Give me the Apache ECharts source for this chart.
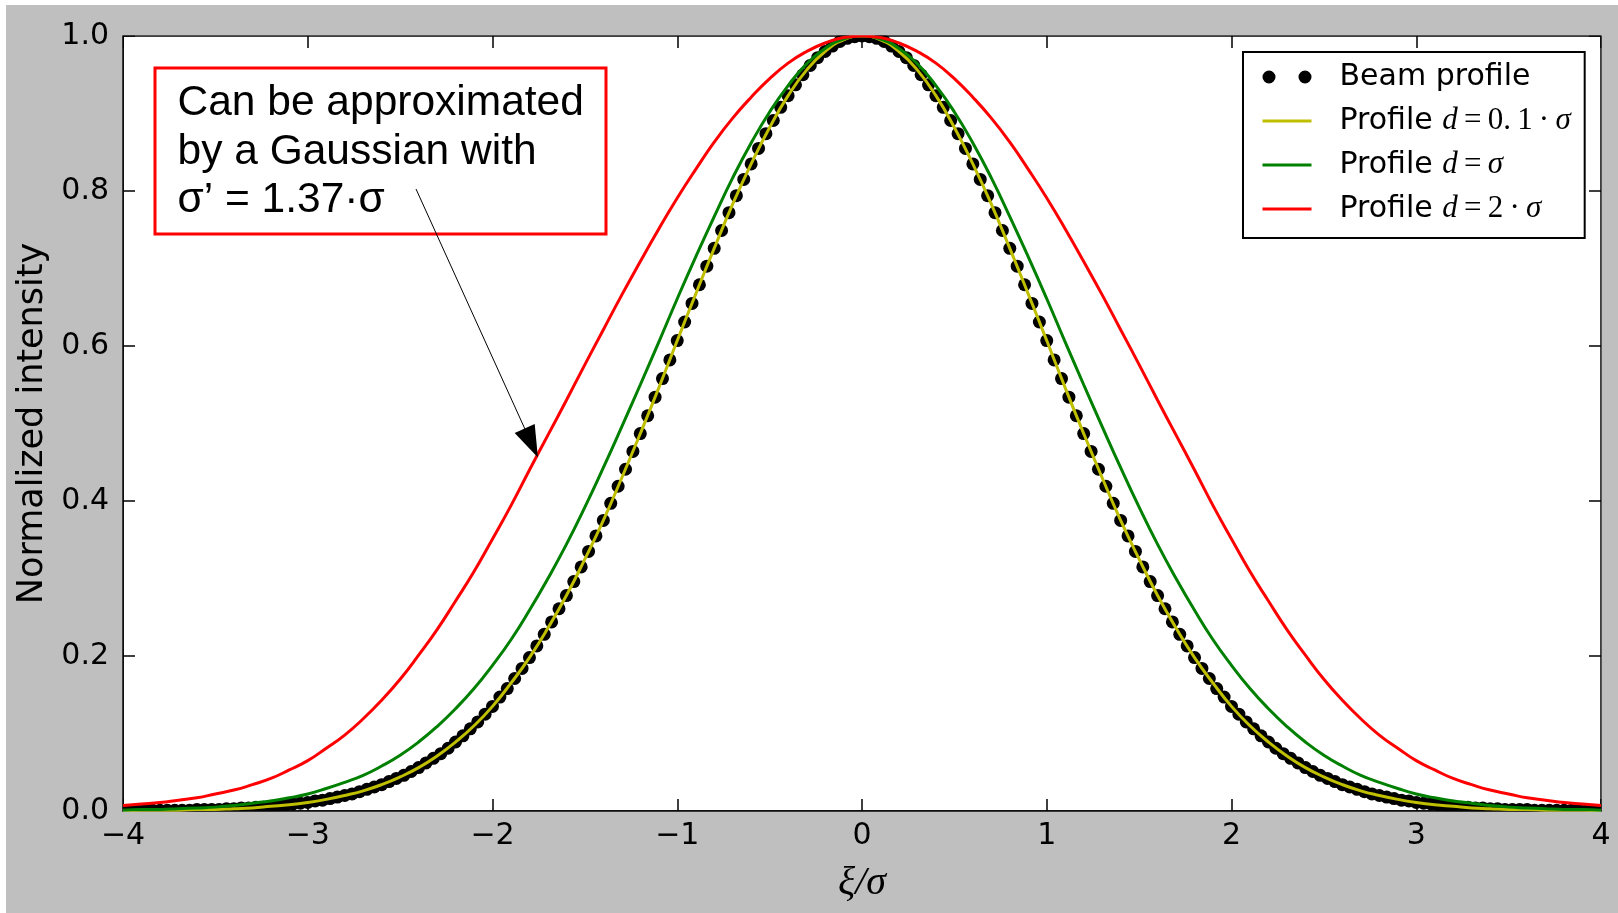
<!DOCTYPE html>
<html><head><meta charset="utf-8">
<script src="https://cdn.jsdelivr.net/npm/echarts@6/dist/echarts.min.js"></script>
<style>html,body{margin:0;padding:0;background:#fff;}#c{position:absolute;left:6px;top:5px;width:1612px;height:908px;}</style>
</head><body><div id="c"></div>
<script>
// ---- data ----
const xMin = -4, xMax = 4, xInterval = 1;
const yMin = 0, yMax = 1, yInterval = 0.2;
const seriesNames = ['Beam profile', 'Profile d=0.1·σ', 'Profile d=σ', 'Profile d=2·σ'];

// black dots, sampled every 0.04 from -4 to 4
const beamStep = 0.04;
const beamValues = [
  0,0,0,.001,.001,.001,.001,.001,.001,.001,
  .002,.002,.002,.002,.003,.003,.004,.004,.005,.005,
  .006,.007,.008,.009,.010,.011,.013,.014,.016,.018,
  .020,.022,.025,.028,.031,.034,.038,.042,.046,.051,
  .056,.062,.068,.074,.081,.089,.097,.106,.115,.125,
  .135,.147,.158,.171,.184,.198,.213,.228,.244,.261,
  .278,.296,.315,.335,.355,.375,.397,.419,.441,.464,
  .487,.510,.534,.558,.582,.607,.631,.655,.679,.703,
  .726,.749,.772,.794,.815,.835,.855,.874,.891,.908,
  .923,.937,.950,.962,.972,.980,.987,.993,.997,.999,
  1.000,
  .999,.997,.993,.987,.980,.972,.962,.950,.937,.923,
  .908,.891,.874,.855,.835,.815,.794,.772,.749,.726,
  .703,.679,.655,.631,.607,.582,.558,.534,.510,.487,
  .464,.441,.419,.397,.375,.355,.335,.315,.296,.278,
  .261,.244,.228,.213,.198,.184,.171,.158,.147,.135,
  .125,.115,.106,.097,.089,.081,.074,.068,.062,.056,
  .051,.046,.042,.038,.034,.031,.028,.025,.022,.020,
  .018,.016,.014,.013,.011,.010,.009,.008,.007,.006,
  .005,.005,.004,.004,.003,.003,.002,.002,.002,.002,
  .001,.001,.001,.001,.001,.001,.001,0,0,0
];

// profile curves, sampled every 0.1 from -4 to 4
const profileStep = 0.1;
const profileThin = [
  .000,.001,.001,.001,.002,.002,.003,.004,.006,.008,
  .011,.015,.020,.026,.034,.044,.056,.071,.089,.110,
  .135,.165,.198,.236,.278,.325,.375,.430,.487,.546,
  .607,.667,.726,.783,.835,.882,.923,.956,.980,.995,
  1.000,
  .995,.980,.956,.923,.882,.835,.783,.726,.667,.607,
  .546,.487,.430,.375,.325,.278,.236,.198,.165,.135,
  .110,.089,.071,.056,.044,.034,.026,.020,.015,.011,
  .008,.006,.004,.003,.002,.002,.001,.001,.001,.000
];
const profileD1 = [
  .001,.002,.002,.003,.004,.005,.007,.010,.013,.017,
  .022,.029,.037,.046,.058,.072,.089,.109,.132,.158,
  .188,.221,.259,.300,.344,.392,.443,.496,.550,.605,
  .661,.715,.767,.817,.862,.902,.936,.964,.984,.996,
  1.000,
  .996,.984,.964,.936,.902,.862,.817,.767,.715,.661,
  .605,.550,.496,.443,.392,.344,.300,.259,.221,.188,
  .158,.132,.109,.089,.072,.058,.046,.037,.029,.022,
  .017,.013,.010,.007,.005,.004,.003,.002,.002,.001
];
const profileD2 = [
  .007,.009,.011,.014,.017,.022,.027,.034,.042,.053,
  .065,.081,.098,.119,.143,.170,.201,.234,.271,.309,
  .351,.394,.440,.485,.530,.576,.621,.666,.709,.751,
  .791,.828,.863,.894,.921,.945,.965,.980,.991,.998,
  1.000,
  .998,.991,.980,.965,.945,.921,.894,.863,.828,.791,
  .751,.709,.666,.621,.576,.530,.485,.440,.394,.351,
  .309,.271,.234,.201,.170,.143,.119,.098,.081,.065,
  .053,.042,.034,.027,.022,.017,.014,.011,.009,.007
];

const noteLines = ['Can be approximated', 'by a Gaussian with', 'σ’ = 1.37·σ'];
const arrowFrom = [-2.414, 0.8026];
const arrowTo = [-1.79, 0.4748];

// ---- build ----
const pairs = (vals, step) => vals.map((v, i) => [+(xMin + i * step).toFixed(3), v]);

const chart = echarts.init(document.getElementById('c'), null, {renderer: 'canvas'});
const SANS = 'DejaVu Sans';
const SERIF = 'Liberation Serif';
const BG = '#bfbfbf';
const tickFmt = v => (v < 0 ? '\u2212' + (-v) : String(v));
const twoDots = 'path://M0,6.5A6.5,6.5,0,1,1,13,6.5A6.5,6.5,0,1,1,0,6.5ZM36,6.5A6.5,6.5,0,1,1,49,6.5A6.5,6.5,0,1,1,36,6.5Z';

const mathRich = {
  s: {width: 23, lineHeight: 44},
  t: {fontFamily: SANS, fontSize: 30, color: '#000', lineHeight: 44},
  i: {fontFamily: SERIF, fontStyle: 'italic', fontSize: 31, color: '#000', lineHeight: 44},
  u: {fontFamily: SERIF, fontSize: 31, color: '#000', lineHeight: 44}
};
const legendText = {
  'Beam profile': '{s|}{t|Beam profile}',
  'Profile d=0.1·σ': '{s|}{t|Profile }{i|d}{u|\u2009=\u20090.\u20091\u2009·\u2009}{i|σ}',
  'Profile d=σ': '{s|}{t|Profile }{i|d}{u|\u2009=\u2009}{i|σ}',
  'Profile d=2·σ': '{s|}{t|Profile }{i|d}{u|\u2009=\u20092\u2009·\u2009}{i|σ}'
};

const tickCommon = {show: true, inside: true, length: 12, lineStyle: {color: '#000', width: 1.5}};

// plot frame (pixels inside the chart div)
const G = {left: 117, top: 31, right: 17, bottom: 102, w: 1612, h: 908};
const gx0 = G.left, gx1 = G.w - G.right, gy0 = G.top, gy1 = G.h - G.bottom;
// masks that clip the dots overhanging the axes frame (matplotlib clips to the axes)
const maskStyle = {fill: BG};
const masks = [
  {type: 'rect', z: 100, silent: true, shape: {x: gx0 - 9, y: gy0 - 9, width: gx1 - gx0 + 18, height: 8.25}, style: maskStyle},
  {type: 'rect', z: 100, silent: true, shape: {x: gx0 - 9, y: gy1 + 0.75, width: gx1 - gx0 + 18, height: 8.25}, style: maskStyle},
  {type: 'rect', z: 100, silent: true, shape: {x: gx0 - 9, y: gy0 - 9, width: 8.25, height: gy1 - gy0 + 18}, style: maskStyle},
  {type: 'rect', z: 100, silent: true, shape: {x: gx1 + 0.75, y: gy0 - 9, width: 8.25, height: gy1 - gy0 + 18}, style: maskStyle}
];

const option = {
  backgroundColor: BG,
  animation: false,
  grid: {left: G.left, top: G.top, right: G.right, bottom: G.bottom, show: true, backgroundColor: '#fff', borderColor: '#000', borderWidth: 1.5},
  xAxis: [
    {type: 'value', min: xMin, max: xMax, interval: xInterval, position: 'bottom',
     name: 'ξ/σ', nameLocation: 'middle', nameGap: 52,
     nameTextStyle: {fontFamily: SERIF, fontStyle: 'italic', fontSize: 40, color: '#000'},
     axisLine: {show: true, onZero: false, lineStyle: {color: '#000', width: 1.5}},
     axisTick: tickCommon, splitLine: {show: false},
     axisLabel: {formatter: tickFmt, fontFamily: SANS, fontSize: 30, color: '#000', margin: 10}},
    {type: 'value', min: xMin, max: xMax, interval: xInterval, position: 'top',
     axisLine: {show: false, onZero: false}, axisTick: tickCommon, splitLine: {show: false}, axisLabel: {show: false}}
  ],
  yAxis: [
    {type: 'value', min: yMin, max: yMax, interval: yInterval, position: 'left',
     name: 'Normalized intensity', nameLocation: 'middle', nameGap: 56,
     nameTextStyle: {fontFamily: SANS, fontSize: 35, color: '#000'},
     axisLine: {show: true, onZero: false, lineStyle: {color: '#000', width: 1.5}},
     axisTick: tickCommon, splitLine: {show: false},
     axisLabel: {formatter: v => v.toFixed(1), fontFamily: SANS, fontSize: 30, color: '#000', margin: 14}},
    {type: 'value', min: yMin, max: yMax, interval: yInterval, position: 'right',
     axisLine: {show: false, onZero: false}, axisTick: tickCommon, splitLine: {show: false}, axisLabel: {show: false}}
  ],
  legend: {
    orient: 'vertical', left: 1237, top: 47, padding: [3, 14, 7, 18], itemGap: 0,
    itemWidth: 49, itemHeight: 13, selectedMode: false,
    borderColor: '#000', borderWidth: 2, borderRadius: 0, backgroundColor: '#fff',
    lineStyle: {width: 3},
    data: [
      {name: seriesNames[0], icon: twoDots, itemStyle: {color: '#000', opacity: 1}},
      {name: seriesNames[1], itemStyle: {opacity: 0}},
      {name: seriesNames[2], itemStyle: {opacity: 0}},
      {name: seriesNames[3], itemStyle: {opacity: 0}}
    ],
    formatter: n => legendText[n],
    textStyle: {rich: mathRich, fontSize: 30, lineHeight: 44}
  },
  graphic: [
    {type: 'rect', z: 1, shape: {x: 149, y: 63, width: 451, height: 166},
     style: {fill: '#fff', stroke: '#ff0000', lineWidth: 3}},
    {type: 'text', z: 1, x: 171.5, y: 74.5,
     style: {text: noteLines.join('\n'), fontFamily: 'Liberation Sans', fontSize: 42.5, lineHeight: 48.5, fill: '#000'}}
  ].concat(masks),
  series: [
    {name: seriesNames[0], type: 'scatter', data: pairs(beamValues, beamStep),
     symbol: 'circle', symbolSize: 13, itemStyle: {color: '#000', opacity: 1}, emphasis: {disabled: true}},
    {name: seriesNames[1], type: 'line', data: pairs(profileThin, profileStep), smooth: true,
     symbol: 'none', lineStyle: {color: '#bfbf00', width: 3}, itemStyle: {color: '#bfbf00'}, emphasis: {disabled: true}},
    {name: seriesNames[2], type: 'line', data: pairs(profileD1, profileStep), smooth: true,
     symbol: 'none', lineStyle: {color: '#008000', width: 3}, itemStyle: {color: '#008000'}, emphasis: {disabled: true}},
    {name: seriesNames[3], type: 'line', data: pairs(profileD2, profileStep), smooth: true,
     symbol: 'none', lineStyle: {color: '#ff0000', width: 3}, itemStyle: {color: '#ff0000'}, emphasis: {disabled: true},
     markLine: {silent: true, symbol: ['none', 'triangle'], symbolSize: [22, 32],
       lineStyle: {color: '#000', width: 1, type: 'solid'}, itemStyle: {color: '#000'},
       label: {show: false}, emphasis: {disabled: true},
       data: [[{coord: arrowFrom}, {coord: arrowTo}]]}}
  ]
};
chart.setOption(option);
</script></body></html>
